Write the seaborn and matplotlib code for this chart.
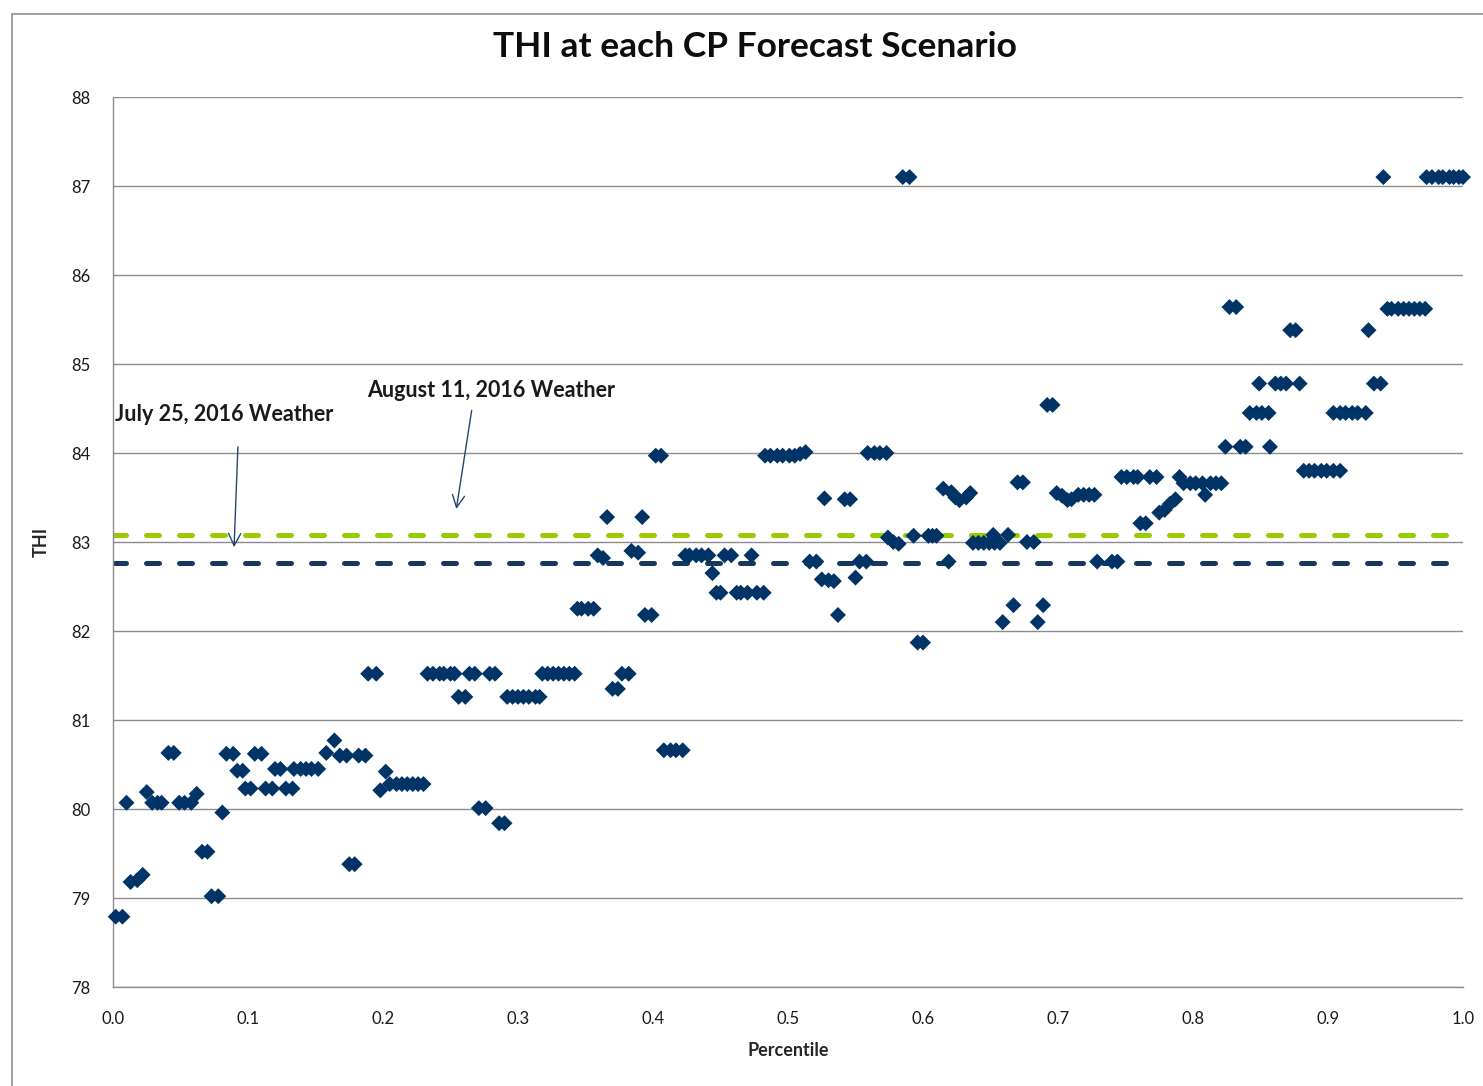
import matplotlib
matplotlib.use("Agg")
import matplotlib.pyplot as plt
import matplotlib.lines as mlines
import pandas as pd
import seaborn as sns

# percentile rank of each CP forecast scenario
percentile = [
    0.002, 0.007, 0.010, 0.013, 0.018, 0.022, 0.025, 0.029, 0.033, 0.036,
    0.041, 0.045, 0.049, 0.053, 0.058, 0.062, 0.066, 0.070, 0.073, 0.078,
    0.081, 0.084, 0.089, 0.092, 0.096, 0.098, 0.102, 0.105, 0.110, 0.113,
    0.118, 0.120, 0.124, 0.128, 0.133, 0.134, 0.139, 0.143, 0.147, 0.152,
    0.158, 0.164, 0.168, 0.173, 0.175, 0.179, 0.182, 0.187, 0.189, 0.195,
    0.198, 0.202, 0.205, 0.210, 0.214, 0.218, 0.222, 0.226, 0.230, 0.233,
    0.237, 0.242, 0.245, 0.250, 0.253, 0.256, 0.261, 0.264, 0.268, 0.271,
    0.276, 0.279, 0.283, 0.286, 0.290, 0.292, 0.296, 0.300, 0.304, 0.308,
    0.313, 0.316, 0.318, 0.322, 0.326, 0.330, 0.334, 0.338, 0.342, 0.344,
    0.347, 0.352, 0.356, 0.359, 0.363, 0.366, 0.370, 0.374, 0.377, 0.382,
    0.384, 0.389, 0.392, 0.394, 0.399, 0.402, 0.406, 0.408, 0.413, 0.417,
    0.422, 0.424, 0.427, 0.432, 0.436, 0.441, 0.444, 0.447, 0.450, 0.453,
    0.458, 0.462, 0.465, 0.470, 0.473, 0.477, 0.482, 0.483, 0.487, 0.492,
    0.496, 0.501, 0.505, 0.509, 0.513, 0.516, 0.521, 0.525, 0.527, 0.530,
    0.534, 0.537, 0.542, 0.546, 0.550, 0.553, 0.558, 0.559, 0.564, 0.568,
    0.573, 0.574, 0.578, 0.582, 0.585, 0.590, 0.593, 0.596, 0.600, 0.604,
    0.607, 0.610, 0.615, 0.619, 0.621, 0.624, 0.627, 0.632, 0.635, 0.637,
    0.641, 0.645, 0.649, 0.652, 0.653, 0.657, 0.659, 0.663, 0.667, 0.670,
    0.674, 0.677, 0.682, 0.685, 0.689, 0.692, 0.696, 0.699, 0.703, 0.707,
    0.710, 0.715, 0.719, 0.723, 0.727, 0.729, 0.740, 0.744, 0.747, 0.751,
    0.756, 0.759, 0.761, 0.765, 0.768, 0.773, 0.775, 0.779, 0.783, 0.787,
    0.790, 0.793, 0.798, 0.802, 0.807, 0.809, 0.813, 0.817, 0.821, 0.824,
    0.827, 0.832, 0.835, 0.839, 0.842, 0.847, 0.849, 0.851, 0.856, 0.857,
    0.861, 0.865, 0.869, 0.872, 0.876, 0.879, 0.882, 0.886, 0.890, 0.895,
    0.899, 0.904, 0.909, 0.904, 0.909, 0.913, 0.918, 0.922, 0.928, 0.930,
    0.934, 0.939, 0.941, 0.944, 0.947, 0.952, 0.956, 0.960, 0.964, 0.968,
    0.972, 0.973, 0.977, 0.982, 0.985, 0.990, 0.993, 0.997, 1.000,
]

thi = [
    78.79, 78.79, 80.07, 79.18, 79.20, 79.26, 80.19, 80.07, 80.07, 80.07,
    80.63, 80.63, 80.07, 80.07, 80.07, 80.17, 79.52, 79.52, 79.02, 79.02,
    79.96, 80.62, 80.62, 80.43, 80.43, 80.23, 80.23, 80.62, 80.62, 80.23,
    80.23, 80.45, 80.45, 80.23, 80.23, 80.45, 80.45, 80.45, 80.45, 80.45,
    80.63, 80.77, 80.60, 80.60, 79.38, 79.38, 80.60, 80.60, 81.52, 81.52,
    80.21, 80.42, 80.28, 80.28, 80.28, 80.28, 80.28, 80.28, 80.28, 81.52,
    81.52, 81.52, 81.52, 81.52, 81.52, 81.26, 81.26, 81.52, 81.52, 80.01,
    80.01, 81.52, 81.52, 79.84, 79.84, 81.26, 81.26, 81.26, 81.26, 81.26,
    81.26, 81.26, 81.52, 81.52, 81.52, 81.52, 81.52, 81.52, 81.52, 82.25,
    82.25, 82.25, 82.25, 82.85, 82.82, 83.28, 81.35, 81.35, 81.52, 81.52,
    82.90, 82.88, 83.28, 82.18, 82.18, 83.97, 83.97, 80.66, 80.66, 80.66,
    80.66, 82.85, 82.85, 82.85, 82.85, 82.85, 82.65, 82.43, 82.43, 82.85,
    82.85, 82.43, 82.43, 82.43, 82.85, 82.43, 82.43, 83.97, 83.97, 83.97,
    83.97, 83.97, 83.97, 83.99, 84.01, 82.78, 82.78, 82.58, 83.49, 82.57,
    82.56, 82.18, 83.48, 83.48, 82.60, 82.78, 82.78, 84.00, 84.00, 84.00,
    84.00, 83.05, 83.00, 82.98, 87.10, 87.10, 83.07, 81.87, 81.87, 83.07,
    83.07, 83.07, 83.60, 82.78, 83.56, 83.50, 83.47, 83.50, 83.55, 82.99,
    82.99, 82.99, 82.99, 83.08, 82.99, 82.99, 82.10, 83.08, 82.29, 83.67,
    83.67, 83.00, 83.00, 82.10, 82.29, 84.54, 84.54, 83.55, 83.52, 83.47,
    83.48, 83.53, 83.53, 83.53, 83.53, 82.78, 82.78, 82.78, 83.73, 83.73,
    83.73, 83.73, 83.21, 83.21, 83.73, 83.73, 83.33, 83.36, 83.43, 83.48,
    83.73, 83.66, 83.66, 83.66, 83.66, 83.53, 83.66, 83.66, 83.66, 84.07,
    85.64, 85.64, 84.07, 84.07, 84.45, 84.45, 84.78, 84.45, 84.45, 84.07,
    84.78, 84.78, 84.78, 85.38, 85.38, 84.78, 83.80, 83.80, 83.80, 83.80,
    83.80, 83.80, 83.80, 84.45, 84.45, 84.45, 84.45, 84.45, 84.45, 85.38,
    84.78, 84.78, 87.10, 85.62, 85.62, 85.62, 85.62, 85.62, 85.62, 85.62,
    85.62, 87.10, 87.10, 87.10, 87.10, 87.10, 87.10, 87.10, 87.10,
]

# observed weather THI
july_25_thi = 82.76
august_11_thi = 83.08

x_ticks = [0.0, 0.1, 0.2, 0.3, 0.4, 0.5, 0.6, 0.7, 0.8, 0.9, 1.0]
x_tick_labels = ["0.0", "0.1", "0.2", "0.3", "0.4", "0.5", "0.6", "0.7", "0.8", "0.9", "1.0"]
y_ticks = [78, 79, 80, 81, 82, 83, 84, 85, 86, 87, 88]

NAVY = "#003366"
LINE_NAVY = "#17375e"
GREEN = "#99cc00"
GRID = "#8c8c8c"

sns.set_style("white")
plt.rcParams["font.family"] = ["Lato", "DejaVu Sans"]

df = pd.DataFrame({"Percentile": percentile, "THI": thi})

fig = plt.figure(figsize=(14.83, 10.86), dpi=100)
ax = fig.add_axes([113 / 1483, 99 / 1086, 1350 / 1483, 890 / 1086])

# dashed weather reference lines
ax.axhline(august_11_thi, color=GREEN, lw=3.6, dashes=(2.6, 4.0),
           dash_capstyle="round", zorder=2)
ax.axhline(july_25_thi, color=LINE_NAVY, lw=3.6, dashes=(2.6, 4.0),
           dash_capstyle="round", zorder=2)

sns.scatterplot(data=df, x="Percentile", y="THI", marker="D", s=66,
                color=NAVY, edgecolor="none", linewidth=0, ax=ax,
                zorder=3, clip_on=False)

ax.set_xlim(0, 1)
ax.set_ylim(78, 88)
ax.set_xticks(x_ticks, labels=x_tick_labels)
ax.set_yticks(y_ticks)
ax.tick_params(axis="both", length=5, width=1, color=GRID, labelsize=12,
               labelcolor="#1a1a1a", direction="out")
ax.tick_params(axis="x", pad=12)
ax.tick_params(axis="y", pad=11)
ax.yaxis.grid(True, color=GRID, lw=1.0)
ax.xaxis.grid(False)
ax.set_axisbelow(True)
for side in ["top", "right"]:
    ax.spines[side].set_visible(False)
for side in ["left", "bottom"]:
    ax.spines[side].set_color(GRID)
    ax.spines[side].set_linewidth(1.0)

ax.set_xlabel("Percentile", fontsize=13, fontweight="bold", labelpad=11)
ax.set_ylabel("THI", fontsize=13, fontweight="bold", labelpad=16)

# annotations with arrows
ax.text(0.0015, 84.43, "July 25, 2016 Weather", ha="left", va="center",
        fontsize=15.5, fontweight="bold", color="#1a1a1a")
ax.annotate("", xy=(0.0896, 82.91), xytext=(0.0926, 84.10),
            arrowprops=dict(arrowstyle="->", color="#24466e", lw=1.0,
                            mutation_scale=22))
ax.text(0.28, 84.70, "August 11, 2016 Weather", ha="center", va="center",
        fontsize=15.5, fontweight="bold", color="#1a1a1a")
ax.annotate("", xy=(0.254, 83.34), xytext=(0.266, 84.51),
            arrowprops=dict(arrowstyle="->", color="#24466e", lw=1.0,
                            mutation_scale=22))

fig.text(755 / 1483, 1 - 47 / 1086, "THI at each CP Forecast Scenario",
         ha="center", va="center", fontsize=25.5, fontweight="bold",
         color="#0d0d0d")

# chart area border (cropped on right and bottom)
fig.add_artist(mlines.Line2D([12 / 1483, 12 / 1483], [0, 1 - 14 / 1086],
                             transform=fig.transFigure, color="#8f8f8f", lw=1.2))
fig.add_artist(mlines.Line2D([12 / 1483, 1], [1 - 14 / 1086, 1 - 14 / 1086],
                             transform=fig.transFigure, color="#8f8f8f", lw=1.2))

fig.savefig("out.png", dpi=100)
